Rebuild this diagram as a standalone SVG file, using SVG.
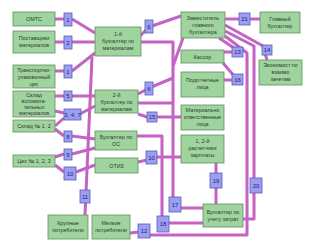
<svg xmlns="http://www.w3.org/2000/svg" width="309" height="252" viewBox="0 0 309 252">
<style>
.g{fill:#9fd49f;stroke:#5f8f5f;stroke-width:0.8}
.b{fill:#9c9ef2;stroke:#5a5ab4;stroke-width:0.8}
.l{fill:none;stroke:#c463c4;stroke-width:3;stroke-linejoin:round}
text{font-family:"Liberation Sans",Arial,sans-serif;font-size:5.4px;fill:#2d3a2d;text-anchor:middle}
.n{font-size:6px;fill:#22226a}
</style>
<rect width="309" height="252" fill="#ffffff"/>
<g id="connectors">
<polyline class="l" points="55,19 64,19"/>
<polyline class="l" points="72,19 95,33"/>
<polyline class="l" points="55,42 95,42"/>
<polyline class="l" points="55,71 64,71"/>
<polyline class="l" points="72,71 95,53"/>
<polyline class="l" points="140,36 149,27 181,16"/>
<polyline class="l" points="141,42 173,42 173,198"/>
<polyline class="l" points="183,38 173,66"/>
<polyline class="l" points="138,94 149,88 173,78"/>
<polyline class="l" points="138,103 173,103"/>
<polyline class="l" points="138,114 147,117 181,117"/>
<polyline class="l" points="137,136 162,136 162,217"/>
<polyline class="l" points="138,162 147,160"/>
<polyline class="l" points="157,157 181,157"/>
<polyline class="l" points="181,208 203,208"/>
<polyline class="l" points="169,223 203,223"/>
<polyline class="l" points="130,233 139,232"/>
<polyline class="l" points="150,235 247,235 247,53 225,36"/>
<polyline class="l" points="225,31 254,46 254,219 243,219"/>
<polyline class="l" points="225,19 260,19"/>
<polyline class="l" points="225,25 263,46 267,60"/>
<polyline class="l" points="219,38 234,48"/>
<polyline class="l" points="224,52 232,52"/>
<polyline class="l" points="223,63 235,77"/>
<polyline class="l" points="232,80 224,80"/>
<polyline class="l" points="216,163 216,204"/>
<polyline class="l" points="92,57 85,215"/>
<polyline class="l" points="55,96 95,96"/>
<polyline class="l" points="55,111 64,113"/>
<polyline class="l" points="55,126 64,118"/>
<polyline class="l" points="80,114 95,106"/>
<polyline class="l" points="55,129 64,136"/>
<polyline class="l" points="72,136 95,139"/>
<polyline class="l" points="55,157 64,154"/>
<polyline class="l" points="72,154 95,148"/>
<polyline class="l" points="55,165 64,172"/>
<polyline class="l" points="76,172 95,165"/>
</g>
<g id="omts"><rect class="g" x="13" y="12" width="42" height="14"/><text x="34" y="21">ОМТС</text></g>
<g id="postav"><rect class="g" x="13" y="31" width="42" height="22"/><text x="34" y="40">Поставщики</text><text x="34" y="47">материалов</text></g>
<g id="transp"><rect class="g" x="13" y="65" width="42" height="23"/><text x="34" y="72">Транспортно-</text><text x="34" y="79">упаковочный</text><text x="34" y="86">цех</text></g>
<g id="sklad_v"><rect class="g" x="13" y="91" width="42" height="26"/><text x="34" y="97">Склад</text><text x="34" y="103">вспомога-</text><text x="34" y="109">тельных</text><text x="34" y="115">материалов</text></g>
<g id="sklad12"><rect class="g" x="13" y="120" width="42" height="12"/><text x="34" y="128">Склад № 1, 2</text></g>
<g id="tseh"><rect class="g" x="13" y="155" width="42" height="12"/><text x="34" y="163">Цех № 1, 2, 3</text></g>
<g id="krupn"><rect class="g" x="48" y="215" width="40" height="24"/><text x="68" y="225">Крупные</text><text x="68" y="232">потребители</text></g>
<g id="melk"><rect class="g" x="92" y="215" width="38" height="24"/><text x="111" y="225">Мелкие</text><text x="111" y="232">потребители</text></g>
<g id="buh1"><rect class="g" x="95" y="27" width="46" height="29"/><text x="118" y="36">1-й</text><text x="118" y="43">бухгалтер по</text><text x="118" y="50">материалам</text></g>
<g id="buh2"><rect class="g" x="95" y="90" width="43" height="23"/><text x="116.5" y="97">2-й</text><text x="116.5" y="104">бухгалтер по</text><text x="116.5" y="111">материалам</text></g>
<g id="buhos"><rect class="g" x="95" y="131" width="42" height="19"/><text x="116" y="139">Бухгалтер по</text><text x="116" y="146">ОС</text></g>
<g id="otiz"><rect class="g" x="95" y="158" width="43" height="15"/><text x="116.5" y="167.5">ОТИЗ</text></g>
<g id="zam"><rect class="g" x="181" y="12" width="44" height="26"/><text x="203" y="20">Заместитель</text><text x="203" y="27">главного</text><text x="203" y="34">бухгалтера</text></g>
<g id="glav"><rect class="g" x="260" y="12" width="40" height="21"/><text x="280" y="21">Главный</text><text x="280" y="28">бухгалтер</text></g>
<g id="econ"><rect class="g" x="259" y="60" width="43" height="25"/><text x="280.5" y="67">Экономист по</text><text x="280.5" y="74">взаимо</text><text x="280.5" y="81">зачетам</text></g>
<g id="kassir"><rect class="g" x="181" y="50" width="43" height="13"/><text x="202.5" y="58.5">Кассир</text></g>
<g id="podotch"><rect class="g" x="181" y="72" width="43" height="25"/><text x="202.5" y="82">Подотчетные</text><text x="202.5" y="89">лица</text></g>
<g id="matotv"><rect class="g" x="181" y="105" width="43" height="25"/><text x="202.5" y="112">Материально</text><text x="202.5" y="119">ответственные</text><text x="202.5" y="126">лица</text></g>
<g id="rasch"><rect class="g" x="181" y="135" width="43" height="28"/><text x="202.5" y="143">1, 2-й</text><text x="202.5" y="150">расчетчики</text><text x="202.5" y="157">зарплаты</text></g>
<g id="zatrat"><rect class="g" x="203" y="204" width="40" height="23"/><text x="223" y="214">Бухгалтер по</text><text x="223" y="221">учету затрат</text></g>
<g id="n1a"><rect class="b" x="64" y="13" width="8" height="13"/><text class="n" x="68" y="21.5">1</text></g>
<g id="n2"><rect class="b" x="64" y="36" width="8" height="13"/><text class="n" x="68" y="44.5">2</text></g>
<g id="n1b"><rect class="b" x="64" y="65" width="8" height="13"/><text class="n" x="68" y="73.5">1</text></g>
<g id="n5"><rect class="b" x="64" y="91" width="8" height="10"/><text class="n" x="68" y="98">5</text></g>
<g id="n347"><rect class="b" x="64" y="109" width="17" height="11"/><text class="n" x="72.5" y="116.5">3, 4, 7</text></g>
<g id="n8"><rect class="b" x="64" y="131" width="8" height="11"/><text class="n" x="68" y="138.5">8</text></g>
<g id="n9"><rect class="b" x="64" y="149" width="8" height="11"/><text class="n" x="68" y="156.5">9</text></g>
<g id="n10a"><rect class="b" x="64" y="167" width="12" height="13"/><text class="n" x="70" y="175.5">10</text></g>
<g id="n11"><rect class="b" x="80" y="190" width="10" height="13"/><text class="n" x="85" y="198.5">11</text></g>
<g id="n6a"><rect class="b" x="145" y="20" width="8" height="13"/><text class="n" x="149" y="28.5">6</text></g>
<g id="n6b"><rect class="b" x="145" y="82" width="8" height="13"/><text class="n" x="149" y="90.5">6</text></g>
<g id="n15"><rect class="b" x="147" y="112" width="10" height="10"/><text class="n" x="152" y="119">15</text></g>
<g id="n10b"><rect class="b" x="146" y="151" width="11" height="13"/><text class="n" x="151.5" y="159.5">10</text></g>
<g id="n17"><rect class="b" x="169" y="197" width="12" height="15"/><text class="n" x="175" y="206.5">17</text></g>
<g id="n18"><rect class="b" x="157" y="216" width="12" height="16"/><text class="n" x="163" y="226">18</text></g>
<g id="n12"><rect class="b" x="138" y="224" width="12" height="14"/><text class="n" x="144" y="233">12</text></g>
<g id="n21"><rect class="b" x="239" y="13" width="11" height="12"/><text class="n" x="244.5" y="21">21</text></g>
<g id="n14"><rect class="b" x="262" y="45" width="10" height="10"/><text class="n" x="267" y="52">14</text></g>
<g id="n13"><rect class="b" x="232" y="47" width="11" height="10"/><text class="n" x="237.5" y="54">13</text></g>
<g id="n16"><rect class="b" x="232" y="74" width="11" height="11"/><text class="n" x="237.5" y="81.5">16</text></g>
<g id="n19"><rect class="b" x="210" y="173" width="12" height="15"/><text class="n" x="216" y="182.5">19</text></g>
<g id="n20"><rect class="b" x="250" y="178" width="12" height="15"/><text class="n" x="256" y="187.5">20</text></g>
</svg>
